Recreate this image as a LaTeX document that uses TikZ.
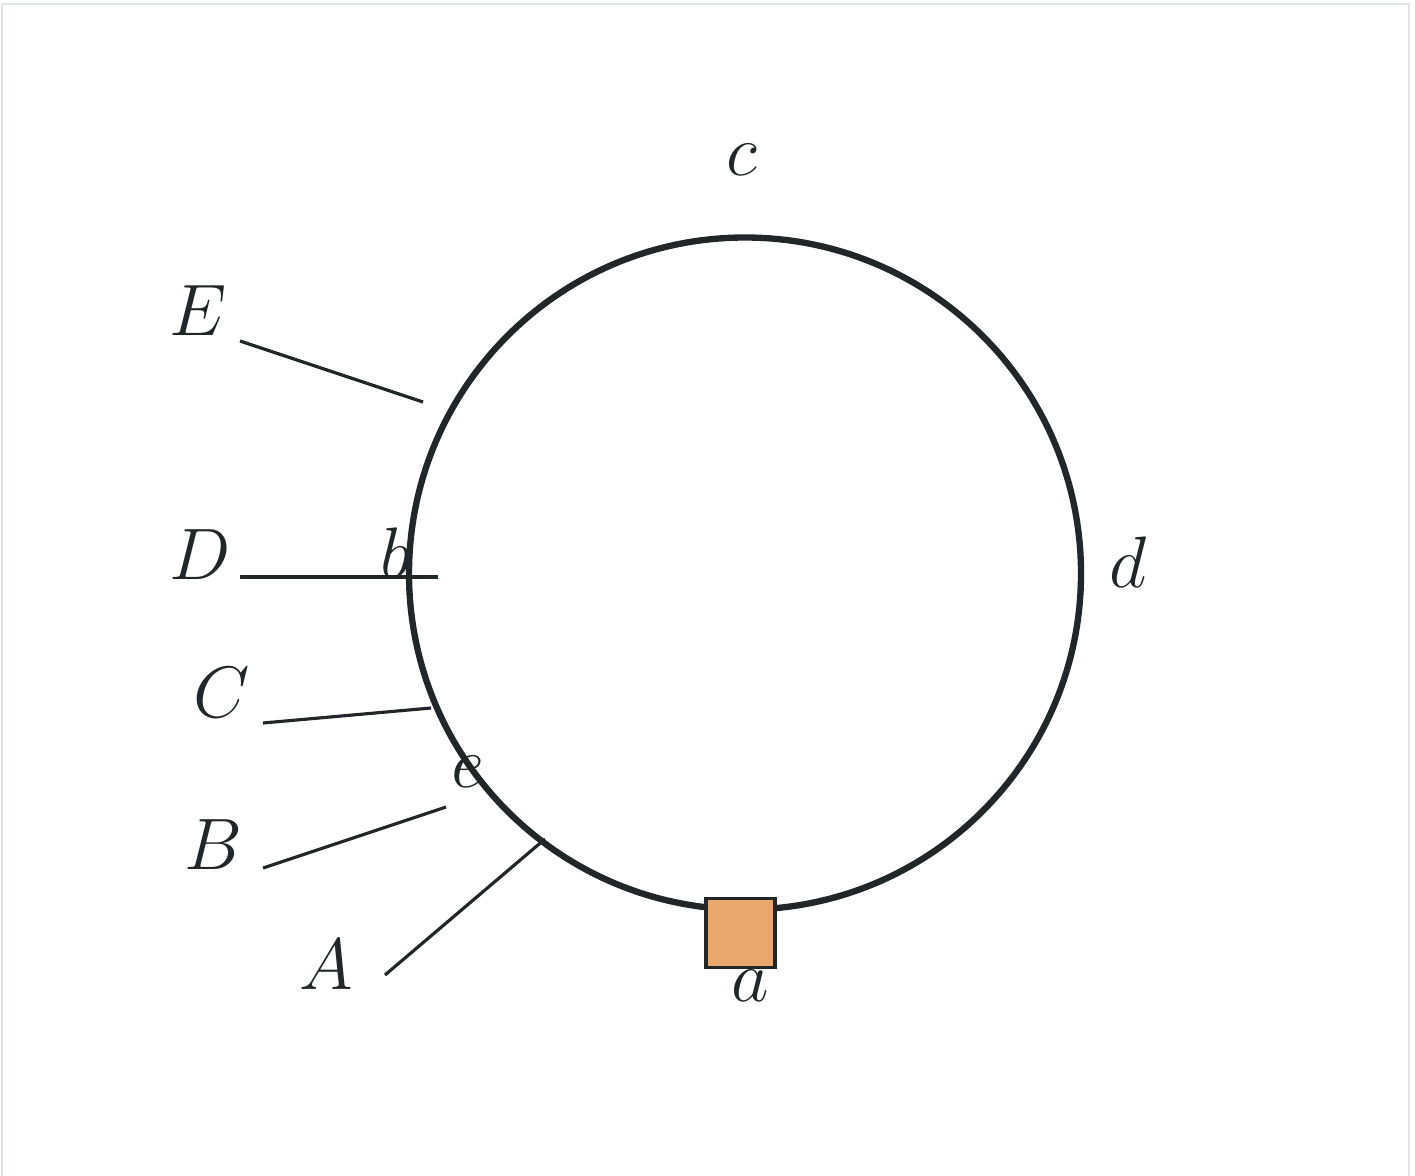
\documentclass[tikz,border=0pt]{standalone}
\usepackage{amsmath}
\usepackage{tikz}
\usetikzlibrary{calc,positioning}
\definecolor{darkline}{RGB}{33,39,41}
\definecolor{framegray}{RGB}{222,229,226}
\definecolor{sandorange}{RGB}{232,167,108}
\tikzset{
  lbl/.style={inner sep=0pt, text=darkline, font=\fontsize{19.5}{24}\selectfont},
  leader/.style={draw=darkline, line width=0.9pt},
}
\begin{document}
\begin{tikzpicture}[x=0.01cm,y=-0.01cm]
                \useasboundingbox (0,0) rectangle (1415,1176);
                \draw[framegray, line width=0.6pt] (2,1176) -- (2,4) -- (1409,4) -- (1409,1176);
                \def\r{336}
                \coordinate (o) at (745,573.5);
                \draw[darkline, line width=1.8pt] (o) circle (\r);
                % leader lines
                \coordinate (e1) at (240,341);   \coordinate (e2) at (423,402);
                \coordinate (d1) at (240,577);   \coordinate (d2) at (438,577);
                \coordinate (c1) at (263,723);   \coordinate (c2) at (431,708);
                \coordinate (b1) at (263,868);   \coordinate (b2) at (446,807);
                \coordinate (a1) at (385,975);   \coordinate (a2) at (545,839);
                \draw[leader] (e1) -- (e2);
                \draw[leader] (d1) -- (d2);
                \draw[leader] (c1) -- (c2);
                \draw[leader] (b1) -- (b2);
                \draw[leader] (a1) -- (a2);
                % labels
                \node[lbl] (lE) at (198,311) {$E$};
                \node[lbl] (lD) at (200,555) {$D$};
                \node[lbl] (lC) at (222,693) {$C$};
                \node[lbl] (lB) at (213,845) {$B$};
                \node[lbl] (lA) at (326,965) {$A$};
                \node[lbl] (pc) at (742,160) {$c$};
                \node[lbl] (pb) at (396,553) {$b$};
                \node[lbl] (pd) at (1128,562) {$d$};
                \node[lbl] (pe) at (468,772) {$e$};
                % block on the track
                \node[draw=darkline, line width=0.9pt, fill=sandorange, minimum size=0.69cm, inner sep=0pt] (blk) at (740.5,933) {};
                \node[lbl] (pa) at (750,986) {$a$};
            \end{tikzpicture}
\end{document}
